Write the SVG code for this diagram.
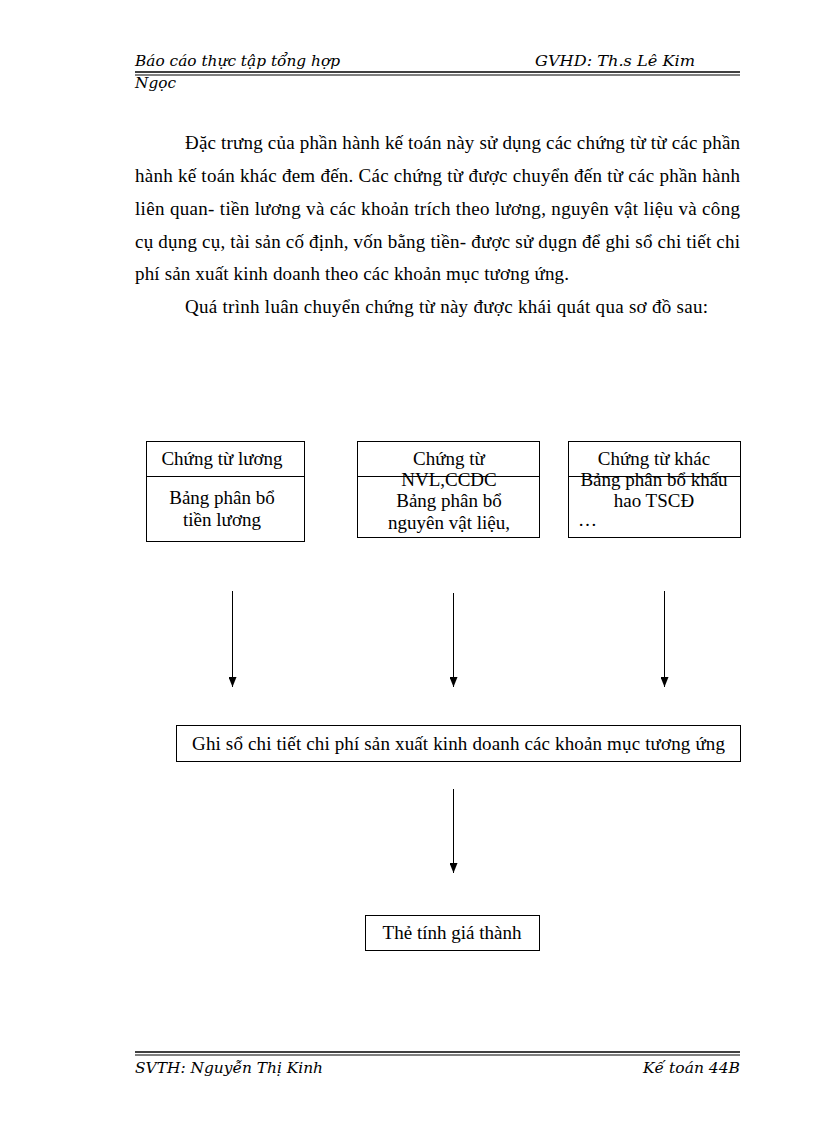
<svg xmlns="http://www.w3.org/2000/svg" width="816" height="1123" viewBox="0 0 816 1123">
<style>
.hd{font-family:"DejaVu Serif","Liberation Serif",serif;font-style:italic;font-size:15px;fill:#000}
.bd{font-family:"Liberation Serif","Times New Roman",serif;font-size:19px;fill:#000}
.bx{fill:#fff;stroke:#000;stroke-width:1}
.ln{stroke:#000;stroke-width:1}
.c{text-anchor:middle}
</style>
<defs>
<marker id="ah" viewBox="0 0 10 8" refX="10" refY="4" markerWidth="10" markerHeight="8" markerUnits="userSpaceOnUse" orient="auto">
<path d="M0,0 L10,4 L0,8 Z" fill="#000"/>
</marker>
</defs>
<rect width="816" height="1123" fill="#fff"/>
<g id="header">
<text class="hd" x="135" y="66" textLength="205" lengthAdjust="spacingAndGlyphs">Báo cáo thực tập tổng hợp</text>
<text class="hd" x="535" y="66" textLength="160" lengthAdjust="spacingAndGlyphs">GVHD: Th.s Lê Kim</text>
<line x1="135" y1="72" x2="740" y2="72" stroke="#000" stroke-width="1.5"/>
<line x1="135" y1="75" x2="740" y2="75" stroke="#000" stroke-width="1"/>
<text class="hd" x="135" y="88" textLength="41" lengthAdjust="spacingAndGlyphs">Ngọc</text>
</g>
<g id="body">
<text class="bd" x="185" y="149" textLength="555" lengthAdjust="spacing">Đặc trưng  của phần hành kế toán này sử dụng các chứng từ từ các phần</text>
<text class="bd" x="135" y="182" textLength="605" lengthAdjust="spacing">hành kế toán khác đem đến. Các chứng từ được chuyển đến từ các phần hành</text>
<text class="bd" x="135" y="215" textLength="605" lengthAdjust="spacing">liên  quan- tiền lương và các khoản trích theo lương, nguyên vật liệu và công</text>
<text class="bd" x="135" y="248" textLength="605" lengthAdjust="spacing">cụ dụng cụ, tài sản cố định, vốn bằng tiền-  được sử dụgn để ghi sổ chi tiết chi</text>
<text class="bd" x="135" y="280" textLength="434" lengthAdjust="spacing">phí sản xuất kinh  doanh theo các khoản mục tương ứng.</text>
<text class="bd" x="185" y="313" textLength="523" lengthAdjust="spacing">Quá trình luân  chuyển chứng từ này được khái  quát qua sơ đồ sau:</text>
</g>
<g id="node-luong">
<rect class="bx" x="146.5" y="441.5" width="158" height="100"/>
<line class="ln" x1="146.5" y1="476.5" x2="304.5" y2="476.5"/>
<text class="bd c" x="222" y="465">Chứng từ lương</text>
<text class="bd c" x="222" y="504">Bảng phân bổ</text>
<text class="bd c" x="222" y="526">tiền lương</text>
</g>
<g id="node-nvl">
<rect class="bx" x="357.5" y="441.5" width="182" height="96"/>
<line class="ln" x1="357.5" y1="476.5" x2="539.5" y2="476.5"/>
<text class="bd c" x="449" y="465">Chứng từ</text>
<text class="bd c" x="449" y="486">NVL,CCDC</text>
<text class="bd c" x="449" y="507">Bảng phân bổ</text>
<text class="bd c" x="449" y="529">nguyên vật liệu,</text>
</g>
<g id="node-khac">
<rect class="bx" x="568.5" y="441.5" width="172" height="96"/>
<line class="ln" x1="568.5" y1="476.5" x2="740.5" y2="476.5"/>
<text class="bd c" x="654" y="465">Chứng từ khác</text>
<text class="bd c" x="654" y="486">Bảng phân bổ khấu</text>
<text class="bd c" x="654" y="507">hao TSCĐ</text>
<text class="bd" x="578" y="526" font-size="11">…</text>
</g>
<g id="connectors">
<line class="ln" x1="232.5" y1="591" x2="232.5" y2="687" marker-end="url(#ah)"/>
<line class="ln" x1="453.5" y1="593" x2="453.5" y2="687" marker-end="url(#ah)"/>
<line class="ln" x1="664.5" y1="591" x2="664.5" y2="687" marker-end="url(#ah)"/>
<line class="ln" x1="453.5" y1="789" x2="453.5" y2="873" marker-end="url(#ah)"/>
</g>
<g id="node-ghiso">
<rect class="bx" x="176.5" y="725.5" width="564" height="36"/>
<text class="bd" x="192" y="750" textLength="533" lengthAdjust="spacing">Ghi sổ chi tiết  chi phí sản xuất kinh  doanh  các khoản mục tương ứng</text>
</g>
<g id="node-the">
<rect class="bx" x="365.5" y="915.5" width="174" height="35"/>
<text class="bd c" x="452" y="939">Thẻ tính giá thành</text>
</g>
<g id="footer">
<line x1="135" y1="1052" x2="740" y2="1052" stroke="#000" stroke-width="1.5"/>
<line x1="135" y1="1055" x2="740" y2="1055" stroke="#000" stroke-width="1"/>
<text class="hd" x="135" y="1073" textLength="188" lengthAdjust="spacingAndGlyphs">SVTH: Nguyễn Thị Kinh</text>
<text class="hd" x="643" y="1073" textLength="97" lengthAdjust="spacingAndGlyphs">Kế toán 44B</text>
</g>
</svg>
